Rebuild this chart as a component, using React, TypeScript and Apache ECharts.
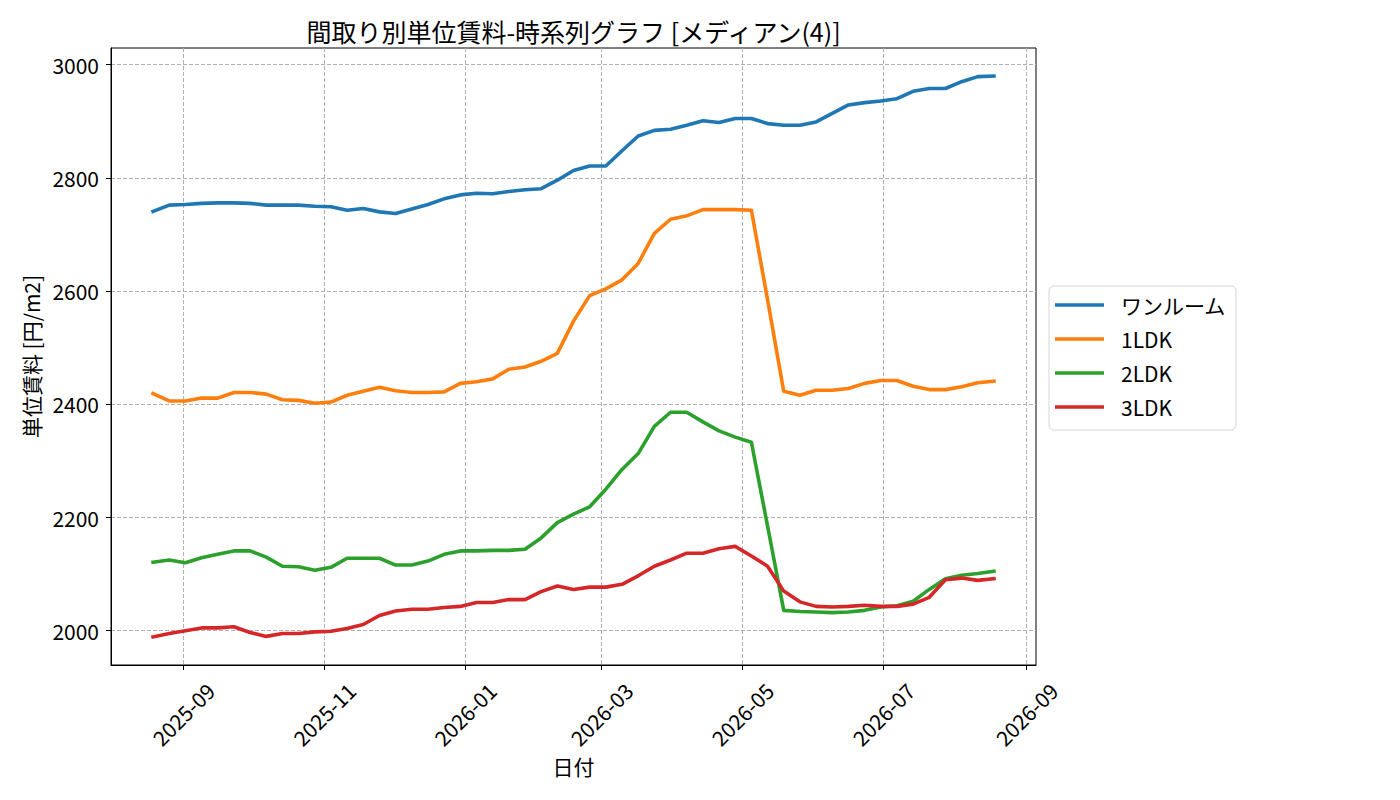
import React, { useEffect, useRef } from 'react';
import * as echarts from 'echarts';

const dates = [
  '2025-08-19', '2025-08-26',
  '2025-09-02', '2025-09-09', '2025-09-16', '2025-09-23', '2025-09-30',
  '2025-10-07', '2025-10-14', '2025-10-21', '2025-10-28',
  '2025-11-04', '2025-11-11', '2025-11-18', '2025-11-25',
  '2025-12-02', '2025-12-09', '2025-12-16', '2025-12-23', '2025-12-30',
  '2026-01-06', '2026-01-13', '2026-01-20', '2026-01-27',
  '2026-02-03', '2026-02-10', '2026-02-17', '2026-02-24',
  '2026-03-03', '2026-03-10', '2026-03-17', '2026-03-24', '2026-03-31',
  '2026-04-07', '2026-04-14', '2026-04-21', '2026-04-28',
  '2026-05-05', '2026-05-12', '2026-05-19', '2026-05-26',
  '2026-06-02', '2026-06-09', '2026-06-16', '2026-06-23', '2026-06-30',
  '2026-07-07', '2026-07-14', '2026-07-21', '2026-07-28',
  '2026-08-04', '2026-08-11', '2026-08-18',
];

const oneRoom = [
  2741, 2752, 2753, 2755, 2756, 2756, 2755, 2752, 2752, 2752,
  2750, 2749, 2743, 2746, 2740, 2737, 2745, 2753, 2763, 2770,
  2773, 2772, 2776, 2779, 2781, 2796, 2813, 2821, 2821, 2848,
  2874, 2884, 2886, 2893, 2901, 2898, 2905, 2905, 2896, 2893,
  2893, 2899, 2914, 2929, 2933, 2936, 2940, 2953, 2958, 2958,
  2970, 2979, 2980,
];

const ldk1 = [
  2419, 2406, 2406, 2411, 2411, 2421, 2421, 2418, 2408, 2407,
  2402, 2404, 2416, 2423, 2430, 2424, 2421, 2421, 2422, 2437,
  2440, 2445, 2462, 2466, 2476, 2490, 2547, 2592, 2604, 2620,
  2649, 2702, 2727, 2733, 2744, 2744, 2744, 2743, 2585, 2423,
  2416, 2425, 2425, 2428, 2437, 2442, 2442, 2432, 2426, 2426,
  2431, 2438, 2441,
];

const ldk2 = [
  2121, 2125, 2120, 2129, 2135, 2141, 2141, 2130, 2114, 2113,
  2107, 2112, 2128, 2128, 2128, 2116, 2116, 2123, 2135, 2141,
  2141, 2142, 2142, 2144, 2164, 2191, 2206, 2219, 2250, 2285,
  2313, 2361, 2386, 2386, 2369, 2353, 2342, 2333, 2185, 2036,
  2034, 2033, 2032, 2033, 2036, 2042, 2044, 2052, 2073, 2092,
  2098, 2101, 2105,
];

const ldk3 = [
  1989, 1995, 2000, 2005, 2005, 2007, 1997, 1990, 1995, 1995,
  1998, 1999, 2004, 2011, 2027, 2035, 2038, 2038, 2041, 2043,
  2050, 2050, 2055, 2055, 2069, 2079, 2073, 2077, 2077, 2082,
  2097, 2114, 2125, 2137, 2137, 2145, 2149, 2132, 2114, 2070,
  2051, 2043, 2042, 2043, 2045, 2043, 2043, 2047, 2059, 2090,
  2093, 2089, 2092,
];

const seriesNames = ['ワンルーム', '1LDK', '2LDK', '3LDK'];
const seriesColors = ['#1f77b4', '#ff7f0e', '#2ca02c', '#d62728'];
const xTickLabels = ['2025-09', '2025-11', '2026-01', '2026-03', '2026-05', '2026-07', '2026-09'];
const yTickValues = [2000, 2200, 2400, 2600, 2800, 3000];

const FONT = '"Noto Sans CJK JP", "Noto Sans", sans-serif';

export default function App() {
  const ref = useRef<HTMLDivElement>(null);

  useEffect(() => {
    document.body.style.margin = '0';
    const chart = echarts.init(ref.current as HTMLDivElement, null, { renderer: 'svg' });
    const ts = (s: string) => Date.parse(s + 'T00:00:00Z');
    const xs = dates.map(ts);
    const span = xs[xs.length - 1] - xs[0];
    const xMin = xs[0] - span * 0.05;
    const xMax = xs[xs.length - 1] + span * 0.05;
    const xTickVals = xTickLabels.map((l) => ts(l + '-01'));
    const allVals = [...oneRoom, ...ldk1, ...ldk2, ...ldk3];
    const vMin = Math.min(...allVals);
    const vMax = Math.max(...allVals);
    const vPad = (vMax - vMin) * 0.05;

    const valueSets = [oneRoom, ldk1, ldk2, ldk3];
    const series = valueSets.map((vals, k) => ({
      type: 'line',
      name: seriesNames[k],
      data: xs.map((x, i) => [x, vals[i]]),
      symbol: 'none',
      showSymbol: false,
      silent: true,
      lineStyle: { color: seriesColors[k], width: 3.6, cap: 'square', join: 'round' },
      itemStyle: { color: seriesColors[k] },
      emphasis: { disabled: true },
    }));

    const fmtX = (v: number) => {
      const d = new Date(v);
      const m = d.getUTCMonth() + 1;
      return d.getUTCFullYear() + '-' + (m < 10 ? '0' + m : '' + m);
    };

    chart.setOption({
      animation: false,
      textStyle: { fontFamily: FONT },
      title: {
        text: '間取り別単位賃料-時系列グラフ [メディアン(4)]',
        left: 573.5,
        top: 18,
        textAlign: 'center',
        padding: 0,
        textStyle: { fontSize: 25, fontWeight: 'normal', color: '#000', fontFamily: FONT },
      },
      legend: {
        orient: 'vertical',
        left: 1049,
        top: 286,
        icon: 'rect',
        itemWidth: 49,
        itemHeight: 3.5,
        itemGap: 10,
        padding: [7, 10, 11, 6],
        backgroundColor: '#ffffff',
        borderColor: '#d5d5d5',
        borderWidth: 1,
        borderRadius: 5,
        selectedMode: false,
        textStyle: { fontSize: 21, lineHeight: 24, color: '#000', fontFamily: FONT, padding: [0, 0, 0, 12] },
        data: seriesNames,
      },
      grid: {
        left: 111,
        right: 364,
        top: 48,
        bottom: 135,
        show: true,
        borderColor: '#000',
        borderWidth: 1,
        backgroundColor: 'transparent',
      },
      xAxis: {
        type: 'value',
        min: xMin,
        max: xMax,
        name: '日付',
        nameLocation: 'middle',
        nameGap: 90,
        nameTextStyle: { fontSize: 21, color: '#000', fontFamily: FONT },
        axisLine: { show: true, onZero: false, lineStyle: { color: '#000', width: 1 } },
        axisTick: { show: true, customValues: xTickVals, length: 5, lineStyle: { color: '#000', width: 1 } },
        axisLabel: {
          customValues: xTickVals,
          rotate: 45,
          align: 'center',
          verticalAlign: 'middle',
          margin: 49,
          fontSize: 21,
          color: '#000',
          fontFamily: FONT,
          formatter: (v: number) => fmtX(v),
        },
        splitLine: { show: true, lineStyle: { color: '#b0b0b0', type: [4, 2], width: 1 } },
      },
      yAxis: {
        type: 'value',
        min: vMin - vPad,
        max: vMax + vPad,
        name: '単位賃料 [円/m2]',
        nameLocation: 'middle',
        nameGap: 61,
        nameTextStyle: { fontSize: 21, color: '#000', fontFamily: FONT },
        axisLine: { show: true, onZero: false, lineStyle: { color: '#000', width: 1 } },
        axisTick: { show: true, customValues: yTickValues, length: 5, lineStyle: { color: '#000', width: 1 } },
        axisLabel: {
          customValues: yTickValues,
          margin: 12,
          fontSize: 21,
          color: '#000',
          fontFamily: FONT,
          formatter: (v: number) => String(v),
        },
        splitLine: { show: true, lineStyle: { color: '#b0b0b0', type: [4, 2], width: 1 } },
      },
      series,
    });
    return () => chart.dispose();
  }, []);

  return <div ref={ref} style={{ width: 1400, height: 800 }} />;
}
